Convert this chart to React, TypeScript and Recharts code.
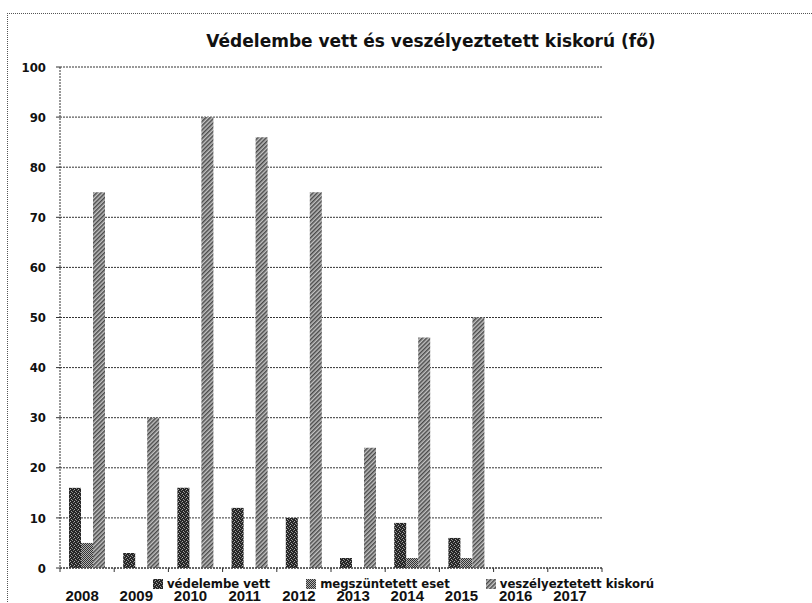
import React from 'react';
import { BarChart, Bar, XAxis, YAxis, CartesianGrid, Legend } from 'recharts';

const years = ['2008', '2009', '2010', '2011', '2012', '2013', '2014', '2015', '2016', '2017'];
const vedelembeVett = [16, 3, 16, 12, 10, 2, 9, 6, null, null];
const megszuntetettEset = [5, 0, 0, 0, 0, 0, 2, 2, null, null];
const veszelyeztetettKiskoru = [75, 30, 90, 86, 75, 24, 46, 50, null, null];
const yTicks = [0, 10, 20, 30, 40, 50, 60, 70, 80, 90, 100];

const SERIES = [
  { key: 'vedelembe', name: 'védelembe vett', values: vedelembeVett },
  { key: 'megszuntetett', name: 'megszüntetett eset', values: megszuntetettEset },
  { key: 'veszelyeztetett', name: 'veszélyeztetett kiskorú', values: veszelyeztetettKiskoru },
];

const data = years.map((year, i) => {
  const row: Record<string, string | number | null> = { year };
  SERIES.forEach(s => { row[s.key] = s.values[i]; });
  return row;
});

const W = 812;
const H = 603;
const MARGIN = { top: 67, right: 210, bottom: 0, left: 20 };
const Y_W = 40;
const X_H = 35;
const BAND = (W - MARGIN.left - MARGIN.right - Y_W) / years.length;

const FONT = '"DejaVu Sans Condensed", "DejaVu Sans", sans-serif';
const LINE = '#333';

const XTick = (props: any) => {
  const { x, y, payload, index } = props;
  const half = BAND / 2;
  return (
    <g>
      <line x1={x - half} y1={y} x2={x - half} y2={y + 4} stroke={LINE} />
      {index === years.length - 1 && (
        <line x1={x + half} y1={y} x2={x + half} y2={y + 4} stroke={LINE} />
      )}
      <text
        x={x - 5}
        y={y + 22}
        dy="0.71em"
        textAnchor="middle"
        fill="#111"
        fontFamily='"Liberation Sans Narrow", sans-serif'
        fontWeight="bold"
        fontSize={15}
      >
        {payload.value}
      </text>
    </g>
  );
};

const renderLegend = () => (
  <div style={{ display: 'flex', gap: 36, whiteSpace: 'nowrap', fontFamily: FONT, fontWeight: 'bold', fontSize: 13, color: '#111' }}>
    {SERIES.map((s, i) => (
      <div key={s.key} style={{ display: 'flex', alignItems: 'center' }}>
        <svg width={10} height={10} style={{ marginRight: 4 }}>
          <rect width={10} height={10} fill={`url(#pat-${i})`} />
        </svg>
        <span>{s.name}</span>
      </div>
    ))}
  </div>
);

export default function App() {
  return (
    <div style={{ position: 'absolute', left: 0, top: 0, width: W, height: H, overflow: 'hidden', background: '#fff' }}>
      <div
        style={{
          position: 'absolute', left: 7, top: 13, width: 900, height: 700,
          borderLeft: '1px dotted #555', borderTop: '1px dotted #555',
        }}
      />
      <div
        style={{
          position: 'absolute', left: 0, top: 31, width: 862, textAlign: 'center',
          fontFamily: '"DejaVu Sans", sans-serif', fontWeight: 'bold', fontSize: 17, color: '#111',
        }}
      >
        Védelembe vett és veszélyeztetett kiskorú (fő)
      </div>
      <BarChart
        width={W}
        height={H}
        data={data}
        margin={MARGIN}
        barCategoryGap={9}
        barGap={0}
        style={{ position: 'absolute', left: 0, top: 0 }}
      >
        <defs>
          <pattern id="pat-0" width="4" height="4" patternUnits="userSpaceOnUse">
            <rect width="4" height="4" fill="#262626" />
            <rect x="0" y="0" width="1" height="1" fill="#8a8a8a" />
            <rect x="2" y="1" width="1" height="1" fill="#adadad" />
            <rect x="1" y="2" width="1" height="1" fill="#7a7a7a" />
            <rect x="3" y="3" width="1" height="1" fill="#a0a0a0" />
          </pattern>
          <pattern id="pat-1" width="2" height="2" patternUnits="userSpaceOnUse">
            <rect width="2" height="2" fill="#b0b0b0" />
            <rect x="0" y="0" width="1" height="1" fill="#333" />
            <rect x="1" y="1" width="1" height="1" fill="#333" />
          </pattern>
          <pattern id="pat-2" width="3" height="3" patternUnits="userSpaceOnUse" patternTransform="rotate(45)">
            <rect width="3" height="3" fill="#c2c2c2" />
            <rect x="0" y="0" width="1.5" height="3" fill="#4a4a4a" />
          </pattern>
        </defs>
        <CartesianGrid vertical={false} stroke={LINE} strokeDasharray="2 1" />
        <XAxis
          dataKey="year"
          height={X_H}
          interval={0}
          tickSize={0}
          tickMargin={0}
          tickLine={false}
          axisLine={{ stroke: LINE, strokeDasharray: '2 1' }}
          tick={<XTick />}
        />
        <YAxis
          width={Y_W}
          domain={[0, 100]}
          ticks={yTicks}
          interval={0}
          tickSize={4}
          tickMargin={10}
          axisLine={{ stroke: LINE, strokeDasharray: '2 1' }}
          tickLine={{ stroke: LINE }}
          tick={{ fill: '#111', fontFamily: FONT, fontWeight: 'bold', fontSize: 13 }}
        />
        <Legend
          layout="horizontal"
          verticalAlign="middle"
          align="center"
          wrapperStyle={{ left: 153, top: 576, width: 'auto', height: 'auto' }}
          content={renderLegend}
        />
        {SERIES.map((s, i) => (
          <Bar key={s.key} dataKey={s.key} name={s.name} fill={`url(#pat-${i})`} isAnimationActive={false} />
        ))}
      </BarChart>
    </div>
  );
}
